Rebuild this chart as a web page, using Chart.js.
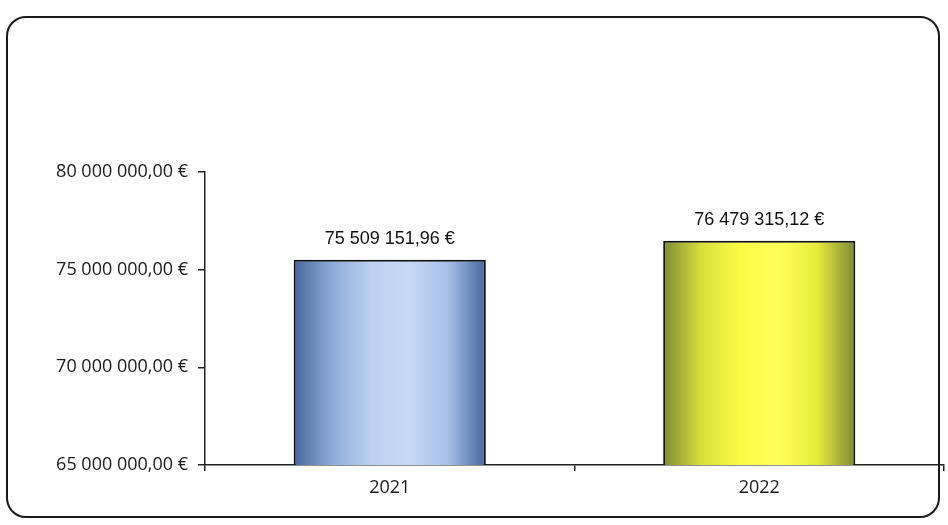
<!DOCTYPE html>
<html>
<head>
<meta charset="utf-8">
<script src="https://cdn.jsdelivr.net/npm/chart.js@4"></script>
<style>
  html, body { margin: 0; padding: 0; background: #fff; }
  #wrap { position: relative; width: 948px; height: 525px; }
  #frame { position: absolute; left: 6px; top: 16px; width: 934px; height: 502px;
           border: 2px solid #1a1a1a; border-radius: 20px; box-sizing: border-box; }
  canvas { position: absolute; left: 0; top: 0; }
</style>
</head>
<body>
<div id="wrap">
  <div id="frame"></div>
  <canvas id="c" width="948" height="525"></canvas>
</div>
<script>
const categories = ["2021", "2022"];
const values = [75509151.96, 76479315.12];
const yTicks = [65000000, 70000000, 75000000, 80000000];

function fmtEuro(v) {
  const parts = v.toFixed(2).split(".");
  const intPart = parts[0].replace(/\B(?=(\d{3})+(?!\d))/g, " ");
  return intPart + "," + parts[1] + " €";
}

const gradStops = [
  ["#46669e", "#8eabd8", "#bcd0f0", "#c6d9f6", "#a9c1e8", "#46669e"],
  ["#7d8a35", "#d9e03a", "#fbfb45", "#ffff5a", "#e8ec3c", "#7d8a35"]
];

function barFill(ctx) {
  const chart = ctx.chart;
  const xs = chart.scales && chart.scales.x;
  if (!chart.chartArea || !xs) return gradStops[ctx.dataIndex][2];
  const cx = xs.getPixelForValue(ctx.dataIndex);
  const half = (xs.width / categories.length) * 0.52 / 2;
  const g = chart.ctx.createLinearGradient(cx - half, 0, cx + half, 0);
  const s = gradStops[ctx.dataIndex];
  s.forEach((c, i) => g.addColorStop(i / (s.length - 1), c));
  return g;
}

const valueLabels = {
  id: "valueLabels",
  afterDatasetsDraw(chart) {
    const meta = chart.getDatasetMeta(0);
    const ctx = chart.ctx;
    ctx.save();
    ctx.font = "18px 'Liberation Sans', Arial, sans-serif";
    ctx.fillStyle = "#111";
    ctx.textAlign = "center";
    ctx.textBaseline = "bottom";
    meta.data.forEach((el, i) => {
      ctx.fillText(fmtEuro(values[i]), el.x, el.y - 12);
    });
    ctx.restore();
  }
};

new Chart(document.getElementById("c"), {
  type: "bar",
  data: {
    labels: categories,
    datasets: [{
      data: values,
      backgroundColor: barFill,
      borderColor: "#111",
      borderWidth: 2,
      borderSkipped: false,
      categoryPercentage: 1,
      barPercentage: 0.52
    }]
  },
  options: {
    responsive: false,
    animation: false,
    events: [],
    layout: { padding: { top: 172, right: 4, left: 0, bottom: 0 } },
    plugins: { legend: { display: false }, tooltip: { enabled: false } },
    scales: {
      y: {
        min: 65000000, max: 80000000,
        afterBuildTicks(scale) { scale.ticks = yTicks.map(v => ({ value: v })); },
        afterFit(scale) { scale.width = 205; },
        ticks: {
          callback: v => fmtEuro(v),
          font: { family: "'Open Sans', sans-serif", size: 18 },
          color: "#1a1a1a",
          padding: 10
        },
        grid: { drawOnChartArea: false, drawTicks: true, tickLength: 7, color: "#222", lineWidth: 1.5 },
        border: { color: "#222", width: 1.5 }
      },
      x: {
        afterFit(scale) { scale.height = 60; },
        ticks: {
          font: { family: "'Open Sans', sans-serif", size: 18 },
          color: "#1a1a1a",
          padding: 6
        },
        grid: { drawOnChartArea: false, drawTicks: true, tickLength: 6, color: "#222", lineWidth: 1.5 },
        border: { color: "#222", width: 1.5 }
      }
    }
  },
  plugins: [valueLabels]
});
</script>
</body>
</html>
